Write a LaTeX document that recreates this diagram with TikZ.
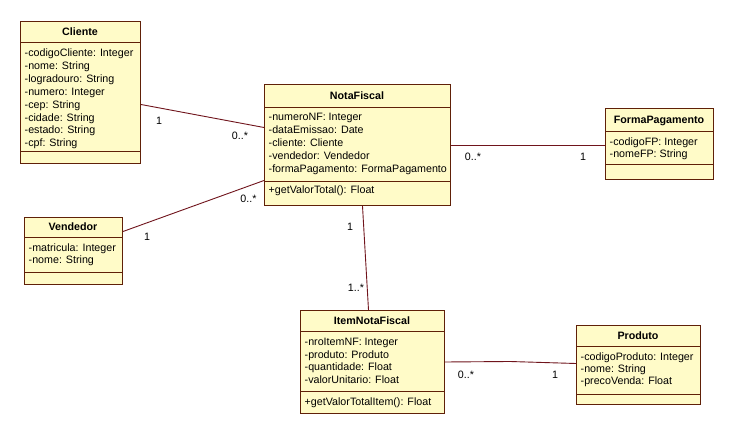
\documentclass[tikz,border=0pt]{standalone}
\usepackage{fontspec}
\setmainfont{Liberation Sans}
\usetikzlibrary{calc}
\definecolor{boxfill}{RGB}{255,251,200}
\definecolor{boxline}{RGB}{96,32,8}
\definecolor{connline}{RGB}{112,20,28}
\begin{document}
\begin{tikzpicture}[x=1pt,y=-1pt,
  classbox/.style={draw=boxline, fill=boxfill, line width=1pt, inner sep=0pt, anchor=north west},
  ctitle/.style={font=\fontsize{10.7}{12}\selectfont\bfseries, inner sep=0pt, anchor=base},
  attr/.style={font=\fontsize{10.7}{12}\selectfont, inner sep=0pt, anchor=base west},
  sepline/.style={draw=boxline, line width=1pt},
  conn/.style={draw=connline, line width=0.9pt},
  mult/.style={font=\fontsize{10.7}{12}\selectfont, inner sep=0pt}]
\useasboundingbox[fill=white] (0,0) rectangle (734,435);

% ---------- Cliente ----------
\node[classbox, minimum width=120pt, minimum height=142pt] (cliente) at (20,21) {};
\draw[sepline] ([yshift=-22pt]cliente.north west) -- ([yshift=-22pt]cliente.north east);
\draw[sepline] ([yshift=-131pt]cliente.north west) -- ([yshift=-131pt]cliente.north east);
\node[ctitle] (clienteT) at (80,35.8) {Cliente};
\foreach \t [count=\i from 0] in {-codigoCliente: Integer,-nome: String,-logradouro: String,-numero: Integer,-cep: String,-cidade: String,-estado: String,-cpf: String}
  \node[attr] (cli\i) at (24.5,{56.7+12.87*\i}) {\t};

% ---------- NotaFiscal ----------
\node[classbox, minimum width=186pt, minimum height=121pt] (nota) at (264,84) {};
\draw[sepline] ([yshift=-24pt]nota.north west) -- ([yshift=-24pt]nota.north east);
\draw[sepline] ([yshift=-98pt]nota.north west) -- ([yshift=-98pt]nota.north east);
\node[ctitle] (notaT) at (357,99.8) {NotaFiscal};
\foreach \t [count=\i from 0] in {-numeroNF: Integer,-dataEmissao: Date,-cliente: Cliente,-vendedor: Vendedor,-formaPagamento: FormaPagamento}
  \node[attr] (nf\i) at (268.5,{120.7+13*\i}) {\t};
\node[attr] (nfm) at (268.5,193.7) {+getValorTotal(): Float};

% ---------- FormaPagamento ----------
\node[classbox, minimum width=108pt, minimum height=71pt] (fp) at (605,108) {};
\draw[sepline] ([yshift=-24pt]fp.north west) -- ([yshift=-24pt]fp.north east);
\draw[sepline] ([yshift=-57pt]fp.north west) -- ([yshift=-57pt]fp.north east);
\node[ctitle] (fpT) at (659,123.8) {FormaPagamento};
\node[attr] (fp0) at (609.5,145.4) {-codigoFP: Integer};
\node[attr] (fp1) at (609.5,157.4) {-nomeFP: String};

% ---------- Vendedor ----------
\node[classbox, minimum width=98pt, minimum height=67pt] (vend) at (24,217) {};
\draw[sepline] ([yshift=-21pt]vend.north west) -- ([yshift=-21pt]vend.north east);
\draw[sepline] ([yshift=-56pt]vend.north west) -- ([yshift=-56pt]vend.north east);
\node[ctitle] (vendT) at (73,230.8) {Vendedor};
\node[attr] (v0) at (28.5,251.7) {-matricula: Integer};
\node[attr] (v1) at (28.5,263.9) {-nome: String};

% ---------- ItemNotaFiscal ----------
\node[classbox, minimum width=144pt, minimum height=103pt] (item) at (300,310) {};
\draw[sepline] ([yshift=-22pt]item.north west) -- ([yshift=-22pt]item.north east);
\draw[sepline] ([yshift=-82pt]item.north west) -- ([yshift=-82pt]item.north east);
\node[ctitle] (itemT) at (372,324.8) {ItemNotaFiscal};
\foreach \t [count=\i from 0] in {-nroItemNF: Integer,-produto: Produto,-quantidade: Float,-valorUnitario: Float}
  \node[attr] (it\i) at (304.5,{345.7+12.6*\i}) {\t};
\node[attr] (itm) at (304.5,405.7) {+getValorTotalItem(): Float};

% ---------- Produto ----------
\node[classbox, minimum width=124pt, minimum height=79pt] (prod) at (576,325) {};
\draw[sepline] ([yshift=-22pt]prod.north west) -- ([yshift=-22pt]prod.north east);
\draw[sepline] ([yshift=-70pt]prod.north west) -- ([yshift=-70pt]prod.north east);
\node[ctitle] (prodT) at (638,339.8) {Produto};
\node[attr] (p0) at (580.5,360.7) {-codigoProduto: Integer};
\node[attr] (p1) at (580.5,372.4) {-nome: String};
\node[attr] (p2) at (580.5,384.1) {-precoVenda: Float};

% ---------- connectors ----------
\draw[conn] ([yshift=-12pt]cliente.east) -- ([yshift=17.5pt]nota.west);
\draw[conn] ([yshift=19.5pt]vend.east) -- ([yshift=-35.5pt]nota.west);
\draw[conn] ([xshift=5pt]nota.south) -- ([xshift=-4pt]item.north);
\draw[conn] (nota.east) -- (nota.east -| fp.west);
\coordinate (kink) at (510,361.5);
\draw[conn] (item.east) -- (kink) -- ([yshift=1.5pt]prod.west);

% ---------- multiplicities ----------
\node[mult] (m1) at (159,121) {1};
\node[mult] (m2) at (240,136) {0..*};
\node[mult] (m3) at (147,237) {1};
\node[mult] (m4) at (248.5,199) {0..*};
\node[mult] (m5) at (350,227) {1};
\node[mult] (m6) at (356,288) {1..*};
\node[mult] (m7) at (473,157) {0..*};
\node[mult] (m8) at (583,157) {1};
\node[mult] (m9) at (466,375) {0..*};
\node[mult] (m10) at (555,375) {1};
\end{tikzpicture}
\end{document}
